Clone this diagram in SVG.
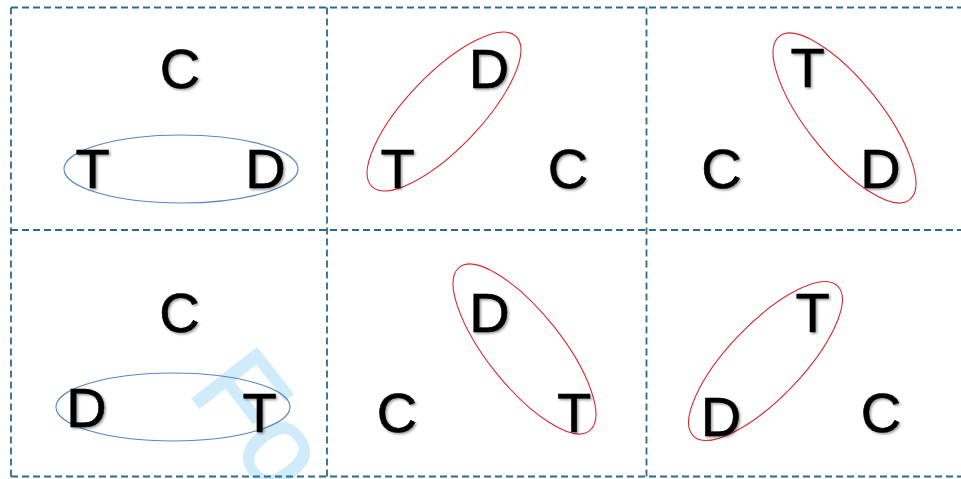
<svg xmlns="http://www.w3.org/2000/svg" width="961" height="479" viewBox="0 0 961 479">
  <defs>
    <filter id="sh" x="-30%" y="-30%" width="160%" height="160%">
      <feDropShadow dx="1.5" dy="1.5" stdDeviation="1.2" flood-color="#000" flood-opacity="0.4"/>
    </filter>
  </defs>
  <style>
    .grid line { stroke: #2d6a8a; stroke-width: 1.8; stroke-dasharray: 7 4; fill: none; }
    .L { font-family: "Liberation Sans", Arial, sans-serif; font-size: 56px; fill: #000; stroke: #000; stroke-width: 0.6; text-anchor: middle; filter: url(#sh); }
    .eb { fill: none; stroke: #5a86bf; stroke-width: 1.1; }
    .er { fill: none; stroke: #d9262e; stroke-width: 1.1; }
    .wm { font-family: "Liberation Sans", Arial, sans-serif; font-size: 118px; fill: #d0ecfb; stroke: #d0ecfb; stroke-width: 2.5; }
  </style>
  <rect width="961" height="479" fill="#fff"/>
  <text class="wm" transform="translate(187,391) rotate(52)">Fo</text>
  <g id="grid" class="grid">
    <line x1="11" y1="7.5" x2="961" y2="7.5"/>
    <line x1="11" y1="230" x2="961" y2="230"/>
    <line x1="11" y1="476.5" x2="961" y2="476.5"/>
    <line x1="11" y1="7.5" x2="11" y2="476.5"/>
    <line x1="327" y1="7.5" x2="327" y2="476.5"/>
    <line x1="646.5" y1="7.5" x2="646.5" y2="476.5"/>
  </g>
  <g id="panel1">
    <ellipse class="eb" cx="181" cy="169" rx="117" ry="34"/>
    <text class="L" x="180" y="88">C</text>
    <text class="L" x="92.5" y="188">T</text>
    <text class="L" x="265.5" y="188">D</text>
  </g>
  <g id="panel2">
    <ellipse class="er" cx="0" cy="0" rx="104" ry="37" transform="translate(444,111.5) rotate(-46.2)"/>
    <text class="L" x="489" y="88">D</text>
    <text class="L" x="397.5" y="188">T</text>
    <text class="L" x="568" y="188">C</text>
  </g>
  <g id="panel3">
    <ellipse class="er" cx="0" cy="0" rx="104.5" ry="37" transform="translate(844.5,118) rotate(51.4)"/>
    <text class="L" x="807.5" y="87">T</text>
    <text class="L" x="721.5" y="188">C</text>
    <text class="L" x="880.5" y="188">D</text>
  </g>
  <g id="panel4">
    <ellipse class="eb" cx="173" cy="407" rx="117" ry="34"/>
    <text class="L" x="179.5" y="332">C</text>
    <text class="L" x="86.5" y="427">D</text>
    <text class="L" x="259.5" y="432">T</text>
  </g>
  <g id="panel5">
    <ellipse class="er" cx="0" cy="0" rx="104.5" ry="37" transform="translate(524.5,349) rotate(51.4)"/>
    <text class="L" x="489.5" y="332">D</text>
    <text class="L" x="574" y="432">T</text>
    <text class="L" x="397" y="432">C</text>
  </g>
  <g id="panel6">
    <ellipse class="er" cx="0" cy="0" rx="104" ry="37" transform="translate(765.5,361) rotate(-46.2)"/>
    <text class="L" x="812.5" y="332">T</text>
    <text class="L" x="721" y="436">D</text>
    <text class="L" x="881" y="432">C</text>
  </g>
</svg>
